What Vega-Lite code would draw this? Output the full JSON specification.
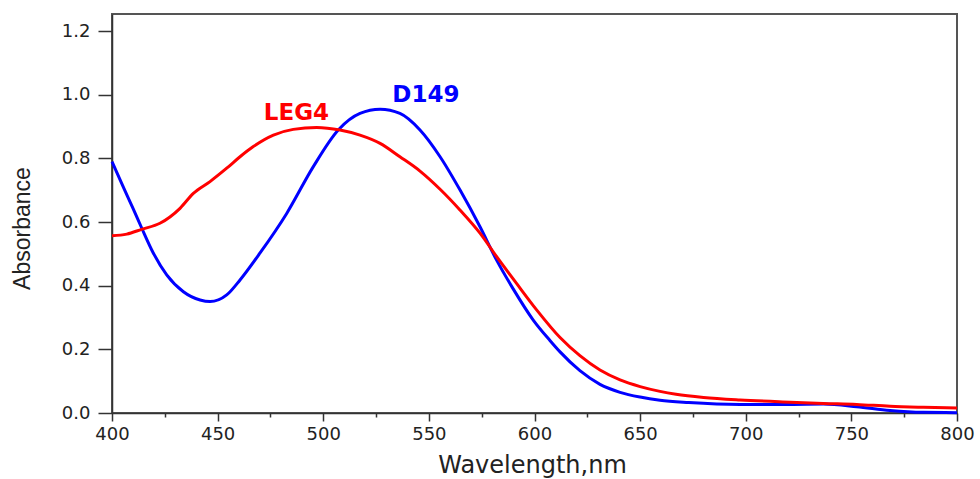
{
  "$schema": "https://vega.github.io/schema/vega-lite/v6.json",
  "width": 845,
  "height": 399,
  "autosize": "none",
  "padding": {"left": 112, "top": 14, "right": 23, "bottom": 66},
  "background": "white",
  "config": {
    "view": {"stroke": "#555555", "strokeWidth": 2},
    "axis": {"grid": false, "domainColor": "#333333", "domainWidth": 1.5, "tickColor": "#333333", "tickWidth": 1.5, "labelFont": "DejaVu Sans", "labelFontSize": 18, "labelColor": "#222222", "titleFontWeight": "normal", "titleColor": "#222222"}
  },
  "datasets": {
    "curves": [
      {"series": "D149", "nm": 400, "abs": 0.790},
      {"series": "D149", "nm": 405, "abs": 0.715},
      {"series": "D149", "nm": 410, "abs": 0.642},
      {"series": "D149", "nm": 414, "abs": 0.582},
      {"series": "D149", "nm": 419.6, "abs": 0.502},
      {"series": "D149", "nm": 425.9, "abs": 0.434},
      {"series": "D149", "nm": 433.8, "abs": 0.381},
      {"series": "D149", "nm": 441.7, "abs": 0.355},
      {"series": "D149", "nm": 446.4, "abs": 0.350},
      {"series": "D149", "nm": 454.3, "abs": 0.371},
      {"series": "D149", "nm": 460.6, "abs": 0.418},
      {"series": "D149", "nm": 470, "abs": 0.502},
      {"series": "D149", "nm": 482.7, "abs": 0.627},
      {"series": "D149", "nm": 495.3, "abs": 0.774},
      {"series": "D149", "nm": 507.1, "abs": 0.889},
      {"series": "D149", "nm": 517.4, "abs": 0.941},
      {"series": "D149", "nm": 526.9, "abs": 0.954},
      {"series": "D149", "nm": 536.3, "abs": 0.941},
      {"series": "D149", "nm": 545.8, "abs": 0.889},
      {"series": "D149", "nm": 555.3, "abs": 0.805},
      {"series": "D149", "nm": 564.7, "abs": 0.701},
      {"series": "D149", "nm": 574.2, "abs": 0.585},
      {"series": "D149", "nm": 582, "abs": 0.481},
      {"series": "D149", "nm": 589.9, "abs": 0.390},
      {"series": "D149", "nm": 599.4, "abs": 0.292},
      {"series": "D149", "nm": 607.3, "abs": 0.228},
      {"series": "D149", "nm": 612.1, "abs": 0.192},
      {"series": "D149", "nm": 621.5, "abs": 0.133},
      {"series": "D149", "nm": 631, "abs": 0.090},
      {"series": "D149", "nm": 640.5, "abs": 0.065},
      {"series": "D149", "nm": 650, "abs": 0.050},
      {"series": "D149", "nm": 659.4, "abs": 0.040},
      {"series": "D149", "nm": 673, "abs": 0.033},
      {"series": "D149", "nm": 697.3, "abs": 0.027},
      {"series": "D149", "nm": 721, "abs": 0.027},
      {"series": "D149", "nm": 736.7, "abs": 0.028},
      {"series": "D149", "nm": 752.5, "abs": 0.020},
      {"series": "D149", "nm": 768.3, "abs": 0.008},
      {"series": "D149", "nm": 784, "abs": 0.002},
      {"series": "D149", "nm": 800, "abs": 0.001},
      {"series": "LEG4", "nm": 400, "abs": 0.557},
      {"series": "LEG4", "nm": 407, "abs": 0.562},
      {"series": "LEG4", "nm": 414, "abs": 0.577},
      {"series": "LEG4", "nm": 422.7, "abs": 0.596},
      {"series": "LEG4", "nm": 432.2, "abs": 0.643},
      {"series": "LEG4", "nm": 438.5, "abs": 0.690},
      {"series": "LEG4", "nm": 446.4, "abs": 0.727},
      {"series": "LEG4", "nm": 454.3, "abs": 0.769},
      {"series": "LEG4", "nm": 460.6, "abs": 0.805},
      {"series": "LEG4", "nm": 466.9, "abs": 0.837},
      {"series": "LEG4", "nm": 476.4, "abs": 0.873},
      {"series": "LEG4", "nm": 485.8, "abs": 0.891},
      {"series": "LEG4", "nm": 496.9, "abs": 0.897},
      {"series": "LEG4", "nm": 507.9, "abs": 0.889},
      {"series": "LEG4", "nm": 517.4, "abs": 0.873},
      {"series": "LEG4", "nm": 526.9, "abs": 0.847},
      {"series": "LEG4", "nm": 536.3, "abs": 0.805},
      {"series": "LEG4", "nm": 545.8, "abs": 0.760},
      {"series": "LEG4", "nm": 555.3, "abs": 0.703},
      {"series": "LEG4", "nm": 564.7, "abs": 0.638},
      {"series": "LEG4", "nm": 574.2, "abs": 0.565},
      {"series": "LEG4", "nm": 582, "abs": 0.492},
      {"series": "LEG4", "nm": 591.5, "abs": 0.407},
      {"series": "LEG4", "nm": 601, "abs": 0.324},
      {"series": "LEG4", "nm": 612.1, "abs": 0.237},
      {"series": "LEG4", "nm": 621.5, "abs": 0.180},
      {"series": "LEG4", "nm": 631, "abs": 0.135},
      {"series": "LEG4", "nm": 640.5, "abs": 0.104},
      {"series": "LEG4", "nm": 650, "abs": 0.083},
      {"series": "LEG4", "nm": 659.4, "abs": 0.068},
      {"series": "LEG4", "nm": 667, "abs": 0.059},
      {"series": "LEG4", "nm": 680, "abs": 0.049},
      {"series": "LEG4", "nm": 697.3, "abs": 0.041},
      {"series": "LEG4", "nm": 721, "abs": 0.034},
      {"series": "LEG4", "nm": 736.7, "abs": 0.030},
      {"series": "LEG4", "nm": 752.5, "abs": 0.027},
      {"series": "LEG4", "nm": 768.3, "abs": 0.021},
      {"series": "LEG4", "nm": 784, "abs": 0.018},
      {"series": "LEG4", "nm": 800, "abs": 0.016}
    ],
    "labels": [
      {"series": "LEG4", "nm": 487.3, "abs": 0.9425},
      {"series": "D149", "nm": 548.6, "abs": 0.999}
    ]
  },
  "layer": [
    {
      "data": {"name": "curves"},
      "mark": {"type": "line", "strokeWidth": 3, "interpolate": "monotone"},
      "encoding": {
        "x": {
          "field": "nm", "type": "quantitative",
          "scale": {"domain": [400, 800], "nice": false, "zero": false},
          "axis": {
            "title": "Wavelength,nm",
            "titleFont": "DejaVu Sans", "titleFontSize": 24,
            "titleX": 420, "titleY": 52, "titleBaseline": "middle", "titleAlign": "center",
            "values": [400, 425, 450, 475, 500, 525, 550, 575, 600, 625, 650, 675, 700, 725, 750, 775, 800],
            "format": "d",
            "labelExpr": "datum.value % 50 == 0 ? datum.label : ''",
            "tickSize": {"condition": {"test": "datum.value % 50 == 0", "value": 8}, "value": 4},
            "labelPadding": 4,
            "labelFlush": false,
            "labelOverlap": false
          }
        },
        "y": {
          "field": "abs", "type": "quantitative",
          "scale": {"domain": [0, 1.2535], "nice": false},
          "axis": {
            "title": "Absorbance",
            "titleFont": "Liberation Sans Narrow, Arial Narrow, Liberation Sans", "titleFontSize": 23,
            "titleX": -90, "titleY": 214, "titleAngle": -90, "titleBaseline": "middle", "titleAlign": "center",
            "values": [0, 0.1, 0.2, 0.3, 0.4, 0.5, 0.6, 0.7, 0.8, 0.9, 1.0, 1.1, 1.2],
            "format": ".1f",
            "labelExpr": "round(datum.value * 10) % 2 == 0 ? datum.label : ''",
            "tickSize": {"condition": {"test": "round(datum.value * 10) % 2 == 0", "value": 14}, "value": 7},
            "labelPadding": 8,
            "labelOverlap": false
          }
        },
        "color": {
          "field": "series", "type": "nominal",
          "scale": {"domain": ["LEG4", "D149"], "range": ["#ff0000", "#0000ff"]},
          "legend": null
        },
        "detail": {"field": "series"}
      }
    },
    {
      "data": {"name": "labels"},
      "mark": {"type": "text", "font": "DejaVu Sans", "fontWeight": "bold", "fontSize": 23, "align": "center", "baseline": "middle"},
      "encoding": {
        "x": {"field": "nm", "type": "quantitative"},
        "y": {"field": "abs", "type": "quantitative"},
        "text": {"field": "series"},
        "color": {"field": "series", "type": "nominal", "legend": null}
      }
    }
  ]
}
